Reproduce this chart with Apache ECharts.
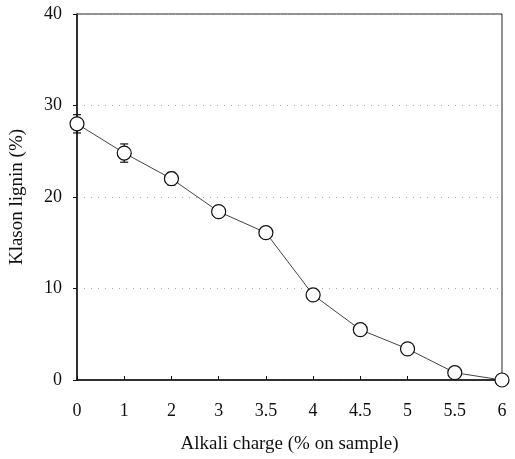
<!DOCTYPE html>
<html>
<head>
<meta charset="utf-8">
<script src="https://cdn.jsdelivr.net/npm/echarts@6/dist/echarts.min.js"></script>
<style>
  html, body { margin: 0; padding: 0; background: #fff; }
  #container { width: 515px; height: 459px; }
</style>
</head>
<body>
<div id="container"></div>
<script>
var charges = ['0', '1', '2', '3', '3.5', '4', '4.5', '5', '5.5', '6'];
var lignin = [28.0, 24.8, 22.0, 18.4, 16.1, 9.3, 5.5, 3.4, 0.8, 0.0];
var errors = [1.0, 1.0, 0.7, 0.4, 0.3, 0.3, 0.3, 0.3, 0.2, 0.0];
var yTicks = [0, 10, 20, 30, 40];

// low/high pairs for the error bars
var errData = [];
for (var i = 0; i < lignin.length; i++) {
    errData.push([i, lignin[i] - errors[i], lignin[i] + errors[i]]);
}

var dom = document.getElementById('container');
var myChart = echarts.init(dom);

var font = 'Liberation Serif';

var option = {
    animation: false,
    backgroundColor: '#fff',
    grid: {
        left: 77,
        right: 13,
        top: 14,
        bottom: 79,
        show: true,
        borderColor: '#222',
        borderWidth: 1
    },
    xAxis: {
        type: 'category',
        data: charges,
        boundaryGap: false,
        name: 'Alkali charge (% on sample)',
        nameLocation: 'middle',
        nameGap: 55,
        nameTextStyle: { fontFamily: font, fontSize: 19, color: '#111' },
        axisLine: { lineStyle: { color: '#111', width: 1.5 } },
        axisTick: { inside: true, length: 4, lineStyle: { color: '#111' } },
        axisLabel: { fontFamily: font, fontSize: 18, color: '#111', margin: 22 },
        splitLine: { show: false }
    },
    yAxis: {
        type: 'value',
        min: 0,
        max: 40,
        interval: 10,
        name: 'Klason lignin (%)',
        nameLocation: 'middle',
        nameGap: 50,
        nameTextStyle: { fontFamily: font, fontSize: 19, color: '#111' },
        axisLine: { show: true, lineStyle: { color: '#111', width: 1.5 } },
        axisTick: { show: true, length: 4, lineStyle: { color: '#111' } },
        axisLabel: {
            fontFamily: font, fontSize: 18, color: '#111', margin: 15,
            formatter: function (v) { return yTicks.indexOf(v) >= 0 ? String(v) : ''; }
        },
        splitLine: { show: true, lineStyle: { color: '#aaa', type: [1, 6], width: 1 } }
    },
    series: [
        {
            type: 'custom',
            data: errData,
            z: 1,
            renderItem: function (params, api) {
                var x = api.value(0);
                var lo = api.coord([x, api.value(1)]);
                var hi = api.coord([x, api.value(2)]);
                var w = 4;
                var st = { stroke: '#111', lineWidth: 1.2 };
                return {
                    type: 'group',
                    children: [
                        { type: 'line', shape: { x1: lo[0], y1: lo[1], x2: hi[0], y2: hi[1] }, style: st },
                        { type: 'line', shape: { x1: lo[0] - w, y1: lo[1], x2: lo[0] + w, y2: lo[1] }, style: st },
                        { type: 'line', shape: { x1: hi[0] - w, y1: hi[1], x2: hi[0] + w, y2: hi[1] }, style: st }
                    ]
                };
            }
        },
        {
            type: 'line',
            data: lignin,
            z: 3,
            symbol: 'circle',
            symbolSize: 14,
            clip: false,
            lineStyle: { color: '#444', width: 1 },
            itemStyle: { color: '#fff', borderColor: '#111', borderWidth: 1.2 }
        }
    ]
};

myChart.setOption(option, true);
</script>
</body>
</html>
